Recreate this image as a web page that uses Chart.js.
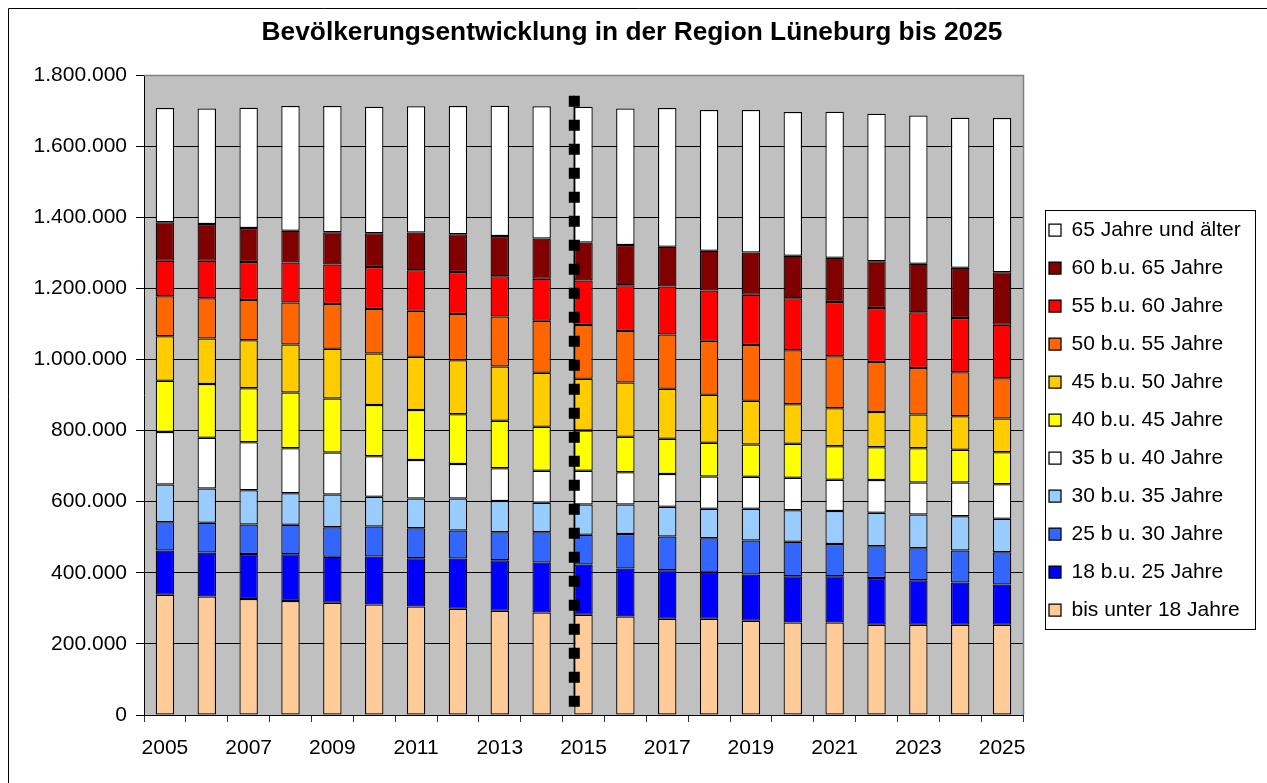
<!DOCTYPE html>
<html>
<head>
<meta charset="utf-8">
<script src="https://cdn.jsdelivr.net/npm/chart.js@4.4.1/dist/chart.umd.min.js"></script>
<style>
html,body{margin:0;padding:0;background:#fff;}
#wrap{width:1267px;height:783px;position:relative;}
canvas{display:block;}
</style>
</head>
<body>
<div id="wrap"><canvas id="c" width="1267" height="783"></canvas></div>
<script>
// ---- data ----
const years = ['2005','2006','2007','2008','2009','2010','2011','2012','2013','2014','2015',
               '2016','2017','2018','2019','2020','2021','2022','2023','2024','2025'];

const seriesLabels = ['bis unter 18 Jahre','18 b.u. 25 Jahre','25 b u. 30 Jahre','30 b.u. 35 Jahre',
  '35 b u. 40 Jahre','40 b.u. 45 Jahre','45 b.u. 50 Jahre','50 b.u. 55 Jahre','55 b.u. 60 Jahre',
  '60 b.u. 65 Jahre','65 Jahre und älter'];

const age0_18  = [338000,333000,326000,321000,316000,311000,305000,299000,293000,288000,282000,277000,271000,271000,265000,260000,260000,254000,254000,254000,254000];
const age18_25 = [125000,124000,127000,131000,129000,135000,136000,141000,142000,141000,141000,135000,136000,130000,130000,130000,130000,131000,125000,119000,113000];
const age25_30 = [79000,84000,83000,83000,83000,84000,84000,79000,79000,85000,84000,97000,95000,96000,96000,97000,91000,90000,90000,90000,91000];
const age30_35 = [106000,96000,96000,89000,92000,84000,84000,90000,88000,83000,85000,83000,84000,83000,89000,89000,93000,94000,95000,96000,94000];
const age35_40 = [148000,143000,135000,126000,118000,114000,108000,97000,92000,90000,95000,91000,92000,91000,90000,91000,88000,92000,90000,95000,97000];
const age40_45 = [144000,151000,152000,157000,152000,144000,141000,140000,134000,124000,113000,100000,99000,95000,91000,96000,94000,92000,96000,92000,90000];
const age45_50 = [125000,128000,135000,135000,140000,145000,150000,152000,152000,152000,146000,152000,141000,135000,123000,111000,107000,99000,95000,94000,95000];
const age50_55 = [113000,113000,113000,118000,126000,125000,129000,130000,141000,146000,151000,145000,152000,152000,157000,152000,146000,141000,131000,124000,113000];
const age55_60 = [100000,106000,107000,113000,111000,118000,114000,118000,113000,118000,125000,129000,135000,141000,141000,146000,153000,152000,157000,153000,151000];
const age60_65 = [108000,103000,96000,89000,91000,95000,106000,106000,113000,113000,107000,113000,112000,112000,119000,120000,124000,131000,136000,141000,147000];
const age65plus= [321000,325000,338000,351000,355000,356000,355000,361000,367000,372000,382000,384000,390000,396000,401000,404000,411000,415000,417000,422000,434000];

const seriesValues = [age0_18, age18_25, age25_30, age30_35, age35_40, age40_45, age45_50, age50_55, age55_60, age60_65, age65plus];
const seriesColors = ['#FFCC99','#0000FF','#3366FF','#99CCFF','#FFFFFF','#FFFF00','#FFCC00','#FF6600','#FF0000','#800000','#FFFFFF'];

const yTickValues = [0,200000,400000,600000,800000,1000000,1200000,1400000,1600000,1800000];
const separatorYear = '2015';
const separatorRange = [23000, 1742000];

const FONT = '"Liberation Sans", Arial, Helvetica, sans-serif';

function fmtDE(v){ return String(Math.round(v)).replace(/\B(?=(\d{3})+(?!\d))/g, '.'); }

const datasets = seriesLabels.map((lab, i) => ({
  label: lab,
  data: seriesValues[i],
  backgroundColor: seriesColors[i],
  borderColor: '#000000',
  borderWidth: 1.25,
  borderSkipped: false,
  barPercentage: 0.44,
  categoryPercentage: 1.0
}));

const decorPlugin = {
  id: 'decor',
  beforeDraw(chart){
    const ctx = chart.ctx, a = chart.chartArea;
    ctx.save();
    ctx.fillStyle = '#FFFFFF';
    ctx.fillRect(0,0,chart.width,chart.height);
    ctx.fillStyle = '#C0C0C0';
    ctx.fillRect(a.left, a.top, a.right - a.left, a.bottom - a.top);
    ctx.strokeStyle = '#000000';
    ctx.lineWidth = 1;
    ctx.beginPath();
    ctx.moveTo(8.5, chart.height + 2);
    ctx.lineTo(8.5, 8.5);
    ctx.lineTo(chart.width + 2, 8.5);
    ctx.stroke();
    ctx.restore();
  },
  afterDatasetsDraw(chart){
    const ctx = chart.ctx;
    const meta = chart.getDatasetMeta(0);
    const el = meta.data[years.indexOf(separatorYear)];
    const x = el.x - el.width / 2;
    const ys = chart.scales.y;
    const yTop = ys.getPixelForValue(separatorRange[1]);
    const yBot = ys.getPixelForValue(separatorRange[0]);
    ctx.save();
    ctx.strokeStyle = '#000000';
    ctx.lineWidth = 1.5;
    ctx.beginPath(); ctx.moveTo(x, yTop); ctx.lineTo(x, yBot); ctx.stroke();
    ctx.lineWidth = 11;
    ctx.lineCap = 'butt';
    ctx.setLineDash([11, 13]);
    ctx.beginPath(); ctx.moveTo(x, yTop); ctx.lineTo(x, yBot); ctx.stroke();
    ctx.restore();
  },
  afterDraw(chart){
    const ctx = chart.ctx, a = chart.chartArea;
    ctx.save();
    ctx.strokeStyle = '#808080';
    ctx.lineWidth = 1.5;
    ctx.beginPath();
    ctx.moveTo(a.left, a.top + 0.5);
    ctx.lineTo(a.right + 0.5, a.top + 0.5);
    ctx.lineTo(a.right + 0.5, a.bottom);
    ctx.stroke();
    const lg = chart.legend;
    const hb = lg.legendHitBoxes;
    if (hb && hb.length){
      const first = hb[0], last = hb[hb.length - 1];
      const x1 = first.left - 4.5, y1 = first.top - 9.5;
      const y2 = last.top + last.height + 8.5;
      const x2 = x1 + 210;
      ctx.strokeStyle = '#000000';
      ctx.lineWidth = 1;
      ctx.strokeRect(Math.round(x1) + 0.5, Math.round(y1) + 0.5, Math.round(x2 - x1), Math.round(y2 - y1));
    }
    ctx.restore();
  }
};

new Chart(document.getElementById('c'), {
  type: 'bar',
  data: { labels: years, datasets },
  options: {
    responsive: false,
    animation: false,
    devicePixelRatio: 1,
    layout: { padding: { left: 8, right: 11, top: 8, bottom: 8 } },
    plugins: {
      title: {
        display: true,
        text: 'Bevölkerungsentwicklung in der Region Lüneburg bis 2025',
        color: '#000000',
        font: { family: FONT, size: 26.3, weight: 'bold', lineHeight: 1.2 },
        padding: { top: 8.5, bottom: 27 }
      },
      legend: {
        display: true,
        position: 'right',
        align: 'start',
        reverse: true,
        maxWidth: 320,
        title: { display: true, text: ' ', font: { size: 2, lineHeight: 1 }, padding: { top: 192.5, bottom: 0 } },
        labels: {
          color: '#000000',
          font: { family: FONT, size: 21 },
          boxWidth: 12,
          boxHeight: 12,
          padding: 17
        }
      },
      tooltip: { enabled: false }
    },
    scales: {
      x: {
        stacked: true,
        grid: { display: true, drawOnChartArea: false, drawTicks: true, tickLength: 7, color: '#333333', offset: true },
        border: { display: true, color: '#000000', width: 1 },
        ticks: {
          autoSkip: false, maxRotation: 0, minRotation: 0, padding: 14,
          color: '#000000', font: { family: FONT, size: 21 },
          callback: function(v, i){ return i % 2 === 0 ? this.getLabelForValue(v) : ''; }
        },
        afterFit(s){ s.height = 60; }
      },
      y: {
        stacked: true,
        min: 0, max: 1800000,
        afterBuildTicks(s){ s.ticks = yTickValues.map(v => ({ value: v })); },
        grid: { color: '#000000', lineWidth: 1, tickLength: 8, drawTicks: true },
        border: { display: true, color: '#000000', width: 1 },
        ticks: { padding: 9, color: '#000000', font: { family: FONT, size: 21 }, callback: v => fmtDE(v) },
        afterFit(s){ s.width = 136; }
      },
      gap: {
        type: 'linear', position: 'right', display: true,
        grid: { display: false, drawTicks: false },
        ticks: { display: false },
        border: { display: false },
        afterFit(s){ s.width = 9; }
      },
      outer: {
        type: 'linear', position: 'right', display: true, weight: 1500,
        grid: { display: false, drawTicks: false },
        ticks: { display: false },
        border: { display: false },
        afterFit(s){
          const lw = (s.chart.legend && s.chart.legend.width) ? s.chart.legend.width : 214;
          s.width = Math.max(0, 224 - lw);
        }
      }
    }
  },
  plugins: [decorPlugin]
});
</script>
</body>
</html>
